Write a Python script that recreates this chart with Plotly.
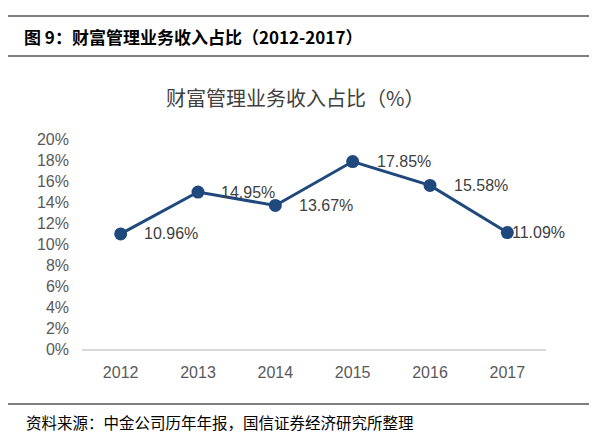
import plotly.graph_objects as go

years = ["2012", "2013", "2014", "2015", "2016", "2017"]
share = [10.96, 14.95, 13.67, 17.85, 15.58, 11.09]
labels = ["10.96%", "14.95%", "13.67%", "17.85%", "15.58%", "11.09%"]

W, H = 609, 434
ML, MR, MT, MB = 82, 63, 139, 85
PW, PH = W - ML - MR, H - MT - MB
LABEL_SHIFT = [21, 21, 22, 22, 22, 3]  # pixel offset of each data label from its marker

fig = go.Figure()
fig.add_trace(go.Scatter(
    x=years, y=share, mode="lines+markers",
    line=dict(color="#1F497D", width=3),
    marker=dict(size=13, color="#1F497D"),
    cliponaxis=False, hoverinfo="skip",
))

# category axis: annotations use the serial index of each category
for i, (v, t, s) in enumerate(zip(share, labels, LABEL_SHIFT)):
    fig.add_annotation(x=i, y=v, xref="x", yref="y", text=t, showarrow=False,
                       xanchor="left", yanchor="middle", xshift=s,
                       font=dict(family="Liberation Sans, Arial", size=16, color="#404040"))

def px(x):
    return (x - ML) / PW

def py(y):
    return (H - MB - y) / PH

fig.update_layout(
    width=W, height=H,
    margin=dict(l=ML, r=MR, t=MT, b=MB),
    paper_bgcolor="white", plot_bgcolor="white",
    showlegend=False,
    xaxis=dict(type="category", showgrid=False, showline=True,
               linecolor="#D9D9D9", linewidth=2, ticks="",
               ticklabelstandoff=8,
               tickfont=dict(family="Liberation Sans, Arial", size=16, color="#595959"),
               range=[-0.5, 5.5], fixedrange=True),
    yaxis=dict(range=[0, 20], dtick=2, ticksuffix="%", showgrid=False,
               zeroline=False, showline=False, ticklabelstandoff=12,
               tickfont=dict(family="Liberation Sans, Arial", size=16, color="#595959"),
               fixedrange=True),
)

shapes = []
for yy in (16, 56, 404):
    shapes.append(dict(type="line", xref="paper", yref="paper",
                       x0=px(8), x1=px(589), y0=py(yy), y1=py(yy),
                       line=dict(color="#000000", width=1.2)))
fig.update_layout(shapes=shapes)

fig.add_annotation(xref="paper", yref="paper", x=px(22), y=py(36),
                   xanchor="left", yanchor="middle", showarrow=False,
                   text="<b>图 9：财富管理业务收入占比（2012-2017）</b>",
                   font=dict(family="Noto Sans CJK SC", size=17, color="#000000"))
fig.add_annotation(xref="paper", yref="paper", x=px(295), y=py(97),
                   xanchor="center", yanchor="middle", showarrow=False,
                   text="财富管理业务收入占比（%）",
                   font=dict(family="Noto Sans CJK SC", size=20, color="#404040"))
fig.add_annotation(xref="paper", yref="paper", x=px(24), y=py(422),
                   xanchor="left", yanchor="middle", showarrow=False,
                   text="资料来源：中金公司历年年报，国信证券经济研究所整理",
                   font=dict(family="Noto Sans CJK SC", size=15.5, color="#000000"))

fig.write_html("out.html", config={"displayModeBar": False},
               post_script="document.body.style.margin='0';document.body.style.overflow='hidden';")
